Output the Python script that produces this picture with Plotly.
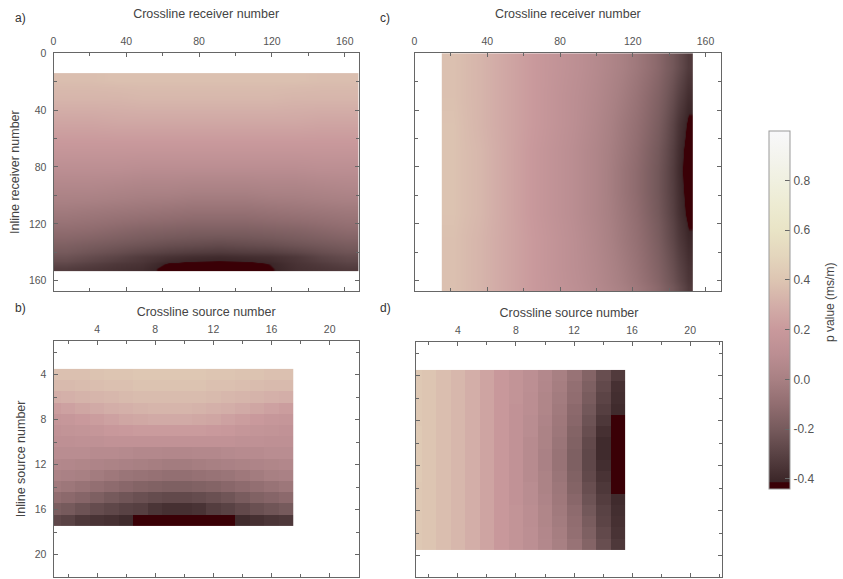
import plotly.graph_objects as go

W, H = 843, 579

# ---------------- data ----------------
# a) receivers, crossline (x) x inline (y) – coarse grid, drawn with smoothing
a_x_edges = [0, 14, 28, 42, 56, 70, 84, 98, 112, 126, 140, 154, 168]
a_y_edges = [14, 24, 40, 56, 72, 88, 104, 118, 130, 140, 146, 150, 153]
a_z = [
    [0.37, 0.37, 0.38, 0.38, 0.38, 0.38, 0.38, 0.38, 0.38, 0.38, 0.37, 0.37],
    [0.33, 0.33, 0.33, 0.34, 0.34, 0.34, 0.34, 0.34, 0.34, 0.33, 0.33, 0.33],
    [0.26, 0.26, 0.27, 0.27, 0.27, 0.27, 0.27, 0.27, 0.27, 0.27, 0.26, 0.26],
    [0.19, 0.19, 0.19, 0.19, 0.19, 0.19, 0.19, 0.19, 0.19, 0.19, 0.19, 0.19],
    [0.11, 0.11, 0.11, 0.10, 0.10, 0.10, 0.10, 0.10, 0.10, 0.10, 0.11, 0.11],
    [0.04, 0.04, 0.03, 0.02, 0.02, 0.01, 0.01, 0.01, 0.02, 0.02, 0.03, 0.04],
    [-0.03, -0.04, -0.05, -0.06, -0.07, -0.08, -0.08, -0.08, -0.07, -0.06, -0.05, -0.04],
    [-0.10, -0.11, -0.13, -0.15, -0.16, -0.17, -0.17, -0.17, -0.16, -0.15, -0.13, -0.11],
    [-0.17, -0.19, -0.21, -0.23, -0.25, -0.26, -0.27, -0.26, -0.25, -0.23, -0.21, -0.19],
    [-0.23, -0.26, -0.29, -0.33, -0.36, -0.38, -0.39, -0.38, -0.37, -0.34, -0.29, -0.26],
    [-0.28, -0.31, -0.34, -0.36, -0.42, -0.44, -0.44, -0.44, -0.41, -0.36, -0.33, -0.30],
    [-0.32, -0.34, -0.36, -0.38, -0.44, -0.47, -0.47, -0.47, -0.42, -0.37, -0.35, -0.33],
]

# c) receivers, other gather – coarse grid, drawn with smoothing
c_x_edges = [15, 28, 44, 60, 76, 92, 108, 122, 134, 142, 148, 153]
c_y_edges = [0, 20, 40, 60, 75, 90, 105, 120, 140, 160, 169]
c_z = [
    [0.38, 0.33, 0.26, 0.19, 0.13, 0.07, 0.00, -0.08, -0.17, -0.25, -0.33],
    [0.38, 0.33, 0.26, 0.19, 0.12, 0.06, -0.02, -0.11, -0.20, -0.30, -0.38],
    [0.39, 0.33, 0.26, 0.19, 0.12, 0.05, -0.04, -0.13, -0.23, -0.35, -0.43],
    [0.39, 0.34, 0.26, 0.18, 0.11, 0.04, -0.05, -0.15, -0.25, -0.37, -0.46],
    [0.39, 0.34, 0.26, 0.18, 0.11, 0.04, -0.06, -0.16, -0.26, -0.38, -0.47],
    [0.39, 0.34, 0.26, 0.18, 0.11, 0.04, -0.06, -0.16, -0.26, -0.37, -0.46],
    [0.39, 0.34, 0.26, 0.18, 0.11, 0.04, -0.05, -0.15, -0.25, -0.36, -0.44],
    [0.38, 0.33, 0.26, 0.19, 0.12, 0.05, -0.04, -0.13, -0.23, -0.33, -0.40],
    [0.38, 0.33, 0.26, 0.19, 0.12, 0.06, -0.02, -0.11, -0.20, -0.29, -0.36],
    [0.38, 0.33, 0.26, 0.19, 0.13, 0.07, 0.00, -0.08, -0.17, -0.25, -0.33],
]

# b) sources
b_x = list(range(1, 18))
b_y = list(range(4, 18))
b_z = [
    [0.38, 0.38, 0.38, 0.39, 0.40, 0.40, 0.41, 0.41, 0.41, 0.41, 0.41, 0.40, 0.40, 0.39, 0.39, 0.38, 0.38],
    [0.35, 0.35, 0.36, 0.37, 0.38, 0.38, 0.39, 0.39, 0.39, 0.39, 0.39, 0.38, 0.38, 0.37, 0.36, 0.35, 0.35],
    [0.30, 0.31, 0.32, 0.33, 0.34, 0.35, 0.36, 0.36, 0.36, 0.36, 0.36, 0.35, 0.34, 0.33, 0.32, 0.31, 0.30],
    [0.22, 0.24, 0.26, 0.28, 0.30, 0.31, 0.32, 0.33, 0.33, 0.33, 0.32, 0.31, 0.30, 0.28, 0.26, 0.24, 0.22],
    [0.17, 0.18, 0.20, 0.22, 0.24, 0.26, 0.27, 0.28, 0.28, 0.28, 0.27, 0.26, 0.24, 0.22, 0.20, 0.18, 0.17],
    [0.14, 0.15, 0.16, 0.17, 0.19, 0.20, 0.21, 0.21, 0.21, 0.21, 0.21, 0.20, 0.19, 0.17, 0.16, 0.15, 0.14],
    [0.12, 0.12, 0.13, 0.13, 0.14, 0.14, 0.14, 0.14, 0.14, 0.14, 0.14, 0.14, 0.14, 0.13, 0.13, 0.12, 0.12],
    [0.09, 0.09, 0.09, 0.08, 0.08, 0.07, 0.06, 0.06, 0.05, 0.05, 0.06, 0.06, 0.07, 0.08, 0.08, 0.09, 0.09],
    [0.06, 0.05, 0.04, 0.03, 0.02, 0.01, 0.00, -0.01, -0.02, -0.02, -0.01, 0.00, 0.01, 0.02, 0.03, 0.04, 0.05],
    [0.02, 0.01, 0.00, -0.02, -0.04, -0.06, -0.07, -0.08, -0.09, -0.09, -0.08, -0.07, -0.06, -0.04, -0.02, 0.00, 0.01],
    [-0.03, -0.05, -0.07, -0.09, -0.11, -0.13, -0.15, -0.16, -0.17, -0.17, -0.16, -0.15, -0.13, -0.11, -0.09, -0.07, -0.05],
    [-0.10, -0.12, -0.14, -0.17, -0.20, -0.22, -0.24, -0.26, -0.27, -0.27, -0.26, -0.24, -0.22, -0.19, -0.16, -0.14, -0.12],
    [-0.18, -0.20, -0.23, -0.26, -0.28, -0.30, -0.31, -0.35, -0.37, -0.37, -0.36, -0.32, -0.30, -0.27, -0.24, -0.22, -0.20],
    [-0.28, -0.30, -0.34, -0.36, -0.37, -0.39, -0.45, -0.45, -0.45, -0.45, -0.45, -0.45, -0.45, -0.39, -0.37, -0.35, -0.34],
]

# d) sources, other gather
d_x = list(range(1, 16))
d_y = list(range(4, 20))
d_z = [
    [0.42, 0.40, 0.37, 0.34, 0.30, 0.25, 0.19, 0.15, 0.11, 0.06, 0.00, -0.07, -0.15, -0.25, -0.33],
    [0.42, 0.40, 0.37, 0.34, 0.30, 0.25, 0.19, 0.15, 0.11, 0.05, -0.01, -0.09, -0.17, -0.27, -0.37],
    [0.42, 0.40, 0.37, 0.34, 0.30, 0.25, 0.19, 0.15, 0.10, 0.04, -0.02, -0.10, -0.19, -0.29, -0.38],
    [0.42, 0.40, 0.37, 0.34, 0.30, 0.25, 0.19, 0.14, 0.10, 0.04, -0.03, -0.12, -0.21, -0.31, -0.39],
    [0.42, 0.40, 0.37, 0.34, 0.30, 0.25, 0.19, 0.14, 0.09, 0.03, -0.04, -0.13, -0.23, -0.34, -0.45],
    [0.43, 0.40, 0.37, 0.34, 0.30, 0.25, 0.19, 0.14, 0.09, 0.02, -0.05, -0.15, -0.25, -0.37, -0.46],
    [0.43, 0.40, 0.37, 0.34, 0.30, 0.25, 0.19, 0.14, 0.08, 0.02, -0.06, -0.16, -0.27, -0.39, -0.46],
    [0.43, 0.40, 0.37, 0.34, 0.30, 0.25, 0.19, 0.14, 0.08, 0.01, -0.07, -0.17, -0.28, -0.39, -0.46],
    [0.43, 0.40, 0.37, 0.34, 0.30, 0.25, 0.19, 0.14, 0.08, 0.01, -0.07, -0.17, -0.28, -0.38, -0.46],
    [0.43, 0.40, 0.37, 0.34, 0.30, 0.25, 0.19, 0.14, 0.08, 0.02, -0.06, -0.16, -0.27, -0.36, -0.45],
    [0.42, 0.40, 0.37, 0.34, 0.30, 0.25, 0.19, 0.14, 0.09, 0.02, -0.05, -0.15, -0.25, -0.34, -0.45],
    [0.42, 0.40, 0.37, 0.34, 0.30, 0.25, 0.19, 0.14, 0.09, 0.03, -0.04, -0.13, -0.23, -0.32, -0.39],
    [0.42, 0.40, 0.37, 0.34, 0.30, 0.25, 0.19, 0.15, 0.10, 0.04, -0.03, -0.11, -0.21, -0.30, -0.38],
    [0.42, 0.40, 0.37, 0.34, 0.30, 0.25, 0.19, 0.15, 0.10, 0.04, -0.02, -0.10, -0.19, -0.29, -0.37],
    [0.42, 0.40, 0.37, 0.34, 0.30, 0.25, 0.19, 0.15, 0.11, 0.05, -0.01, -0.09, -0.17, -0.27, -0.36],
    [0.42, 0.40, 0.37, 0.34, 0.30, 0.25, 0.19, 0.15, 0.11, 0.06, 0.00, -0.07, -0.15, -0.25, -0.34],
]

cbar_ticks = [-0.4, -0.2, 0.0, 0.2, 0.4, 0.6, 0.8]
cbar_ticktext = ["-0.4", "-0.2", "0.0", "0.2", "0.4", "0.6", "0.8"]

# ---------------- style ----------------
CMIN, CMAX = -0.44, 1.0
stop_vals = [-0.44, -0.415, -0.41, -0.3, -0.2, -0.1, 0.0, 0.1, 0.2, 0.3, 0.4, 0.5, 0.6, 0.7, 0.8, 0.9, 1.0]
stop_cols = ["#3a0006", "#3a0006", "#3b2628", "#594244", "#765a5c", "#916d70", "#a88083",
             "#bb8e92", "#c9999c", "#d3aea8", "#ddc5b2", "#e4d6bd", "#e9e4c6", "#edebd2",
             "#f0f0e0", "#f4f4ee", "#f8f8fa"]
colorscale = [[(v - CMIN) / (CMAX - CMIN), c] for v, c in zip(stop_vals, stop_cols)]

FONT = "Liberation Sans, Arial, sans-serif"
TICKC = "#555555"
LINEC = "#666666"


def px_x(a, b):
    return [a / W, b / W]


def px_y(top, bottom):
    return [1 - bottom / H, 1 - top / H]


fig = go.Figure()
fig.add_trace(go.Heatmap(x=a_x_edges, y=a_y_edges, z=a_z, zsmooth="best",
                         coloraxis="coloraxis", xaxis="x", yaxis="y"))
fig.add_trace(go.Heatmap(x=c_x_edges, y=c_y_edges, z=c_z, zsmooth="best",
                         coloraxis="coloraxis", xaxis="x2", yaxis="y2"))
fig.add_trace(go.Heatmap(x=b_x, y=b_y, z=b_z, zsmooth=False,
                         coloraxis="coloraxis", xaxis="x3", yaxis="y3"))
fig.add_trace(go.Heatmap(x=d_x, y=d_y, z=d_z, zsmooth=False,
                         coloraxis="coloraxis", xaxis="x4", yaxis="y4"))


def xaxis(dom, rng, dtick, minor, title, anchor, standoff):
    return dict(domain=dom, range=rng, anchor=anchor, side="top", dtick=dtick, tick0=0,
                ticks="inside", ticklen=4, tickcolor=LINEC, mirror="ticks", showline=True,
                linecolor=LINEC, linewidth=1, showgrid=False, zeroline=False,
                ticklabelstandoff=3,
                minor=dict(dtick=minor, tick0=0, ticks="inside", ticklen=3, tickcolor=LINEC),
                tickfont=dict(size=10.5, color=TICKC, family=FONT),
                title=dict(text=title, font=dict(size=12.5, color="#444444", family=FONT),
                           standoff=standoff))


def yaxis(dom, rng, dtick, minor, title, anchor, labels=True):
    return dict(domain=dom, range=rng, anchor=anchor, dtick=dtick, tick0=0,
                ticks="inside", ticklen=4, tickcolor=LINEC, mirror="ticks", showline=True,
                linecolor=LINEC, linewidth=1, showgrid=False, zeroline=False,
                showticklabels=labels, ticklabelstandoff=4,
                minor=dict(dtick=minor, tick0=0, ticks="inside", ticklen=3, tickcolor=LINEC),
                tickfont=dict(size=10.5, color=TICKC, family=FONT),
                title=dict(text=title, font=dict(size=12.5, color="#444444", family=FONT), standoff=6))


def label(text, x, y):
    return dict(text=text, x=x / W, y=1 - y / H, xref="paper", yref="paper", showarrow=False,
                xanchor="left", yanchor="middle", font=dict(size=12, color="#333333", family=FONT))


fig.update_layout(
    width=W, height=H, margin=dict(l=0, r=0, t=0, b=0),
    paper_bgcolor="white", plot_bgcolor="white",
    font=dict(family=FONT, color="#444444"),
    xaxis=xaxis(px_x(50.7, 357), [0, 167.7], 40, 20, "Crossline receiver number", "y", 13),
    yaxis=yaxis(px_y(47.7, 288), [167.2, 0], 40, 20, "Inline receiver number", "x"),
    xaxis2=xaxis(px_x(413, 720.7), [0, 168.6], 40, 20, "Crossline receiver number", "y2", 13),
    yaxis2=yaxis(px_y(47.7, 288), [167.2, 0], 40, 20, "", "x2", labels=False),
    xaxis3=xaxis(px_x(50.7, 357), [1, 22], 4, 2, "Crossline source number", "y3", 3),
    yaxis3=yaxis(px_y(338.3, 577), [22, 1], 4, 2, "Inline source number", "x3"),
    xaxis4=xaxis(px_x(414.3, 721.7), [1.1, 22.2], 4, 2, "Crossline source number", "y4", 3),
    yaxis4=yaxis(px_y(339.3, 577.3), [21.9, 1], 4, 2, "", "x4", labels=False),
    coloraxis=dict(
        cmin=CMIN, cmax=CMAX, colorscale=colorscale,
        colorbar=dict(
            x=769 / W, xanchor="left", xpad=0,
            y=1 - 126 / H, yanchor="top", ypad=0,
            len=362 / H, lenmode="fraction", thickness=21, thicknessmode="pixels",
            outlinecolor="#999999", outlinewidth=1,
            tickvals=cbar_ticks, ticktext=cbar_ticktext,
            ticks="inside", ticklen=5, tickcolor="#666666",
            tickfont=dict(size=12, color=TICKC, family=FONT),
        ),
    ),
    annotations=[
        label("a)", 10, 12),
        label("c)", 376, 12),
        label("b)", 10, 305),
        label("d)", 376, 305),
        dict(text="p value (ms/m)", x=830 / W, y=1 - 300 / H, xref="paper", yref="paper",
             showarrow=False, textangle=-90, xanchor="center", yanchor="middle",
             font=dict(size=12, color="#444444", family=FONT)),
    ],
)

fig.write_html("out.html")
